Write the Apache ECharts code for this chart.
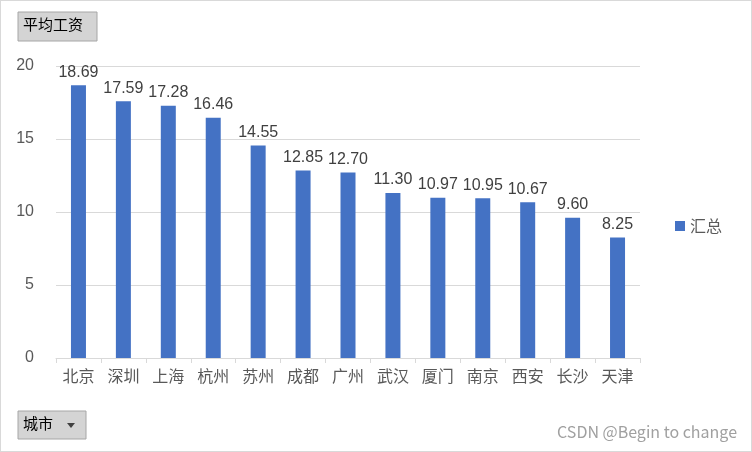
<!DOCTYPE html>
<html><head><meta charset="utf-8">
<script src="https://cdn.jsdelivr.net/npm/echarts@6/dist/echarts.min.js"></script>
<style>html,body{margin:0;padding:0;background:#fff}#c{width:752px;height:452px;box-sizing:border-box;border:1px solid #d9d9d9}</style>
</head><body><div id="c"></div>
<script>
const categories=['北京','深圳','上海','杭州','苏州','成都','广州','武汉','厦门','南京','西安','长沙','天津'];
const values=[18.69,17.59,17.28,16.46,14.55,12.85,12.70,11.30,10.97,10.95,10.67,9.60,8.25];
const seriesName='汇总';
const chart=echarts.init(document.getElementById('c'));
const font='"Microsoft YaHei","Noto Sans CJK SC",sans-serif';
chart.setOption({
  animation:false,
  grid:{left:55,right:111,top:65,bottom:93},
  legend:{right:24,top:'middle',orient:'vertical',itemWidth:10,itemHeight:10,icon:'rect',
    textStyle:{fontSize:16,color:'#595959',fontFamily:font},data:[seriesName]},
  xAxis:{type:'category',data:categories,axisTick:{show:true,alignWithLabel:false,length:5,lineStyle:{color:'#d9d9d9'}},
    axisLine:{lineStyle:{color:'#d9d9d9'}},axisLabel:{fontSize:16,color:'#595959',fontFamily:font,margin:10}},
  yAxis:{type:'value',min:0,max:20,interval:5,axisLabel:{fontSize:16,color:'#595959',margin:22},
    splitLine:{lineStyle:{color:'#d9d9d9'}}},
  series:[{name:seriesName,type:'bar',data:values,barWidth:15,itemStyle:{color:'#4472c4'},
    label:{show:true,position:'top',fontSize:16,color:'#404040',formatter:p=>p.value.toFixed(2)}}],
  graphic:[
    {type:'rect',shape:{x:17,y:11,width:79,height:29},style:{fill:'#d4d4d4',stroke:'#a6a6a6'}},
    {type:'text',left:22,top:16,style:{text:'平均工资',fontSize:15,fill:'#000',fontFamily:font}},
    {type:'rect',shape:{x:17,y:410,width:68,height:28},style:{fill:'#d4d4d4',stroke:'#a6a6a6'}},
    {type:'text',left:22,top:415,style:{text:'城市',fontSize:15,fill:'#000',fontFamily:font}},
    {type:'polygon',shape:{points:[[66,422],[74,422],[70,427]]},style:{fill:'#404040'}},
    {type:'text',right:14,top:423,style:{text:'CSDN @Begin to change',fontSize:16,fill:'#a0a0a0',fontFamily:font}}
  ]
});
</script></body></html>
